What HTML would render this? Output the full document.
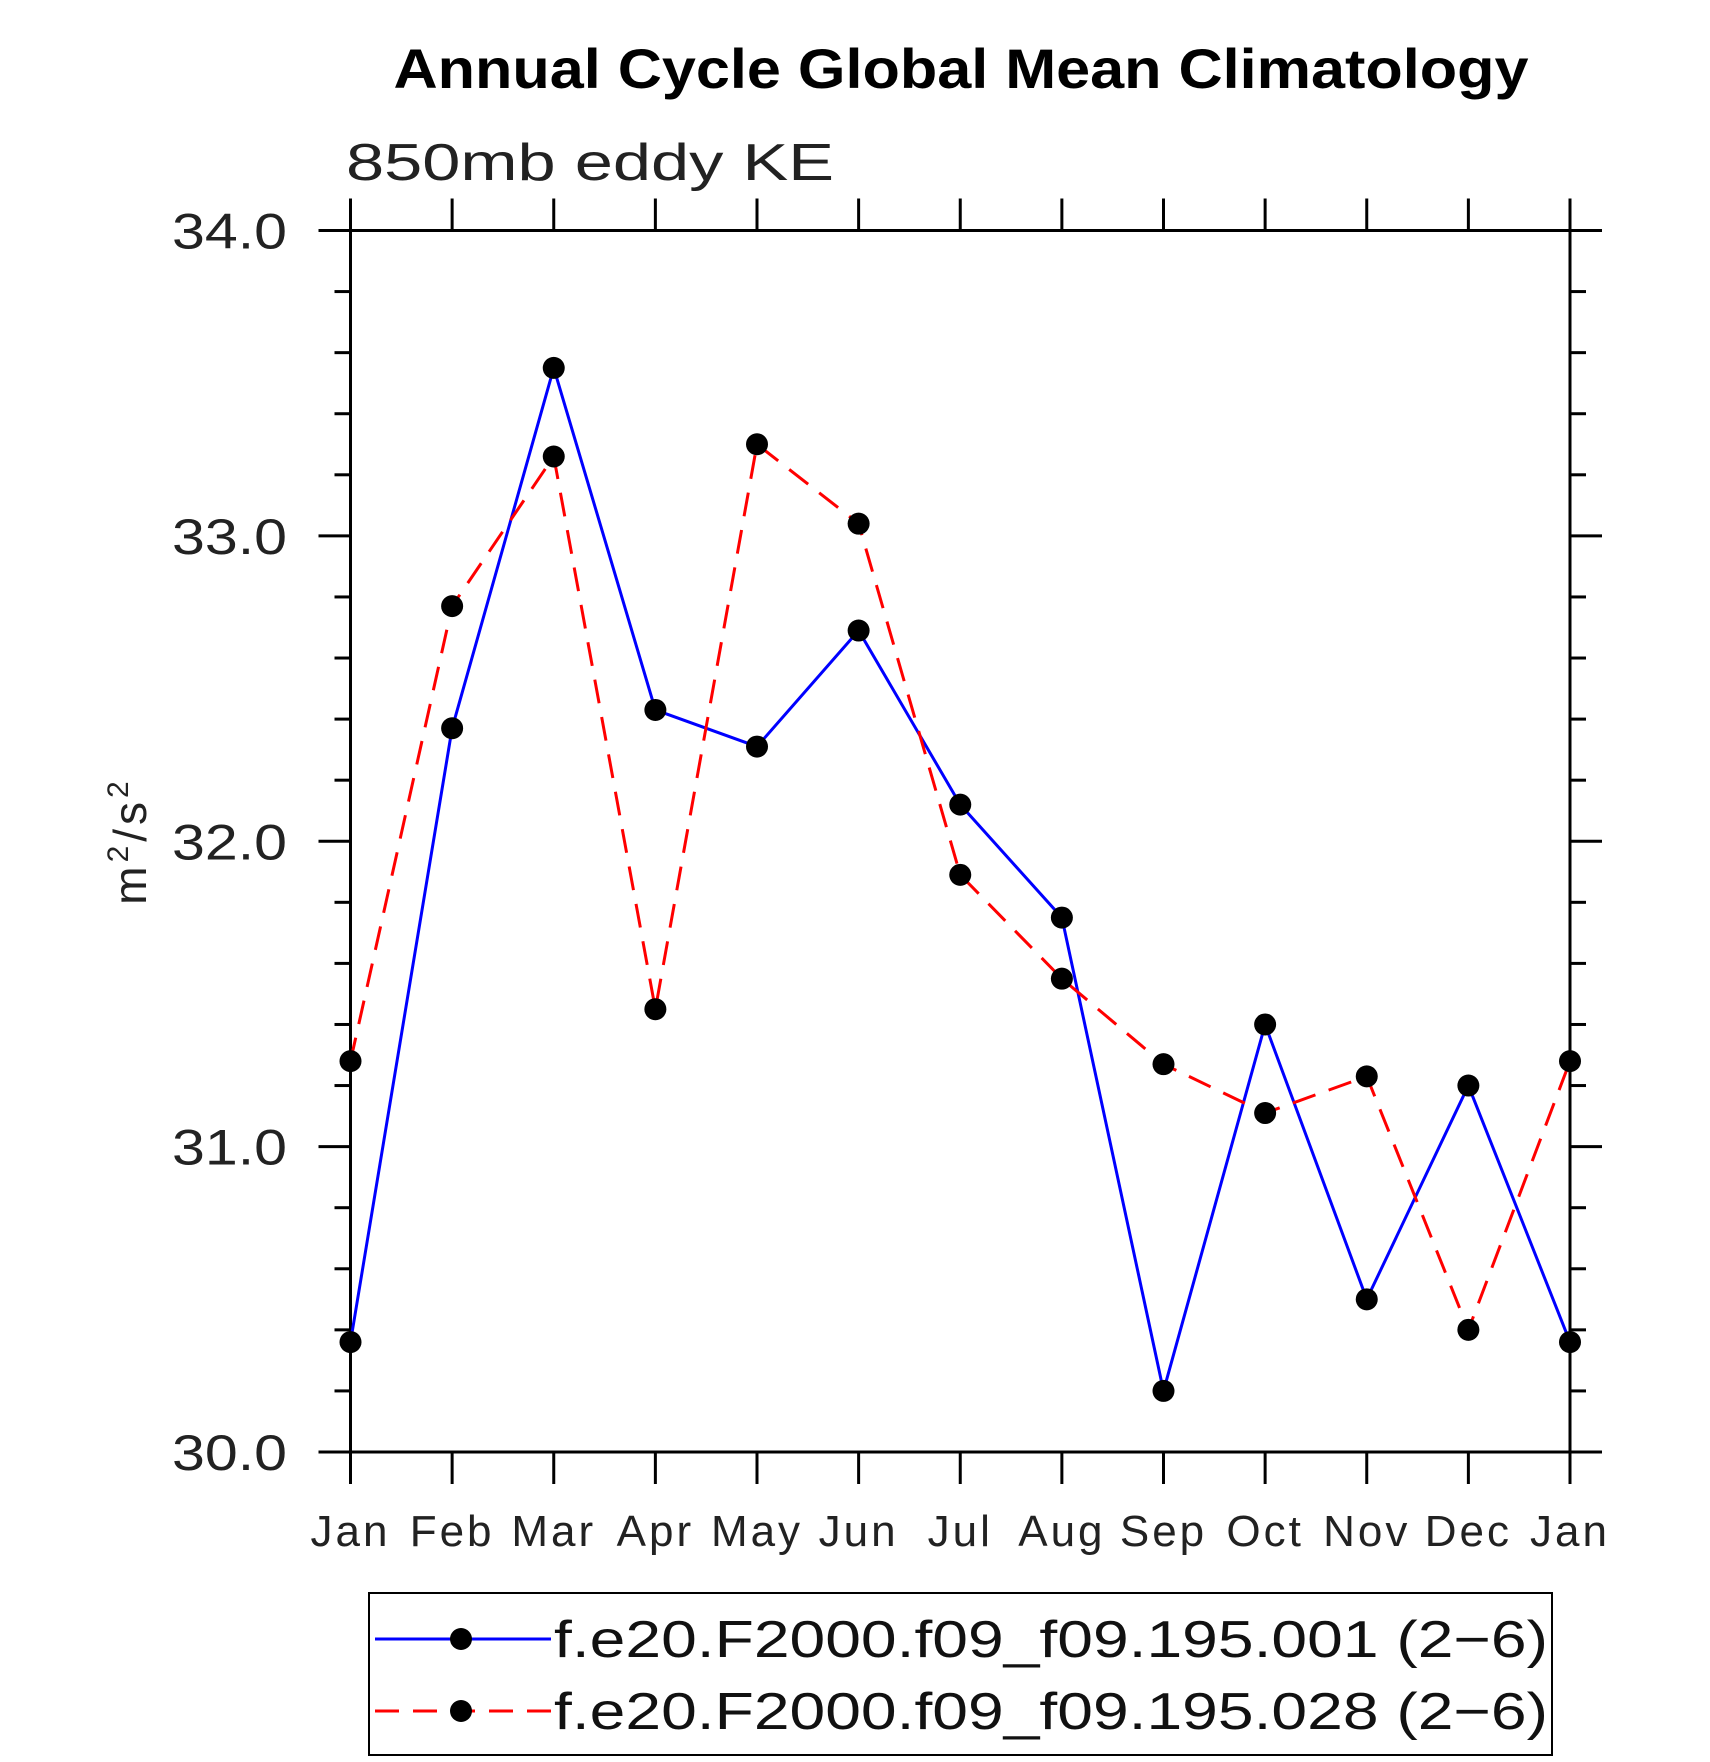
<!DOCTYPE html>
<html><head><meta charset="utf-8"><style>
html,body{margin:0;padding:0;background:#fff;}
svg{display:block;font-family:"Liberation Sans",sans-serif;}
</style></head><body>
<svg id="chart" width="1710" height="1762" viewBox="0 0 1710 1762">
<text x="961" y="88" text-anchor="middle" font-weight="bold" font-size="56" textLength="1135" lengthAdjust="spacingAndGlyphs">Annual Cycle Global Mean Climatology</text>
<text x="346" y="180" font-size="52" textLength="488" lengthAdjust="spacingAndGlyphs" fill="#222">850mb eddy KE</text>
<text transform="translate(146,841) rotate(-90)" text-anchor="middle" font-size="46" fill="#222" letter-spacing="4">m<tspan dy="-18" font-size="30">2</tspan><tspan dy="18">/s</tspan><tspan dy="-18" font-size="30">2</tspan></text>
<g id="axes"></g>
<g id="series"></g>
<g id="legend">
<rect x="369" y="1593" width="1183" height="162" fill="none" stroke="#000" stroke-width="2"/>
<g>
<line x1="375" y1="1639" x2="551" y2="1639" stroke="#0000ff" stroke-width="3"/>
<circle cx="461" cy="1639" r="11" fill="#000"/>
<text x="554" y="1657" font-size="52" textLength="994" lengthAdjust="spacingAndGlyphs" fill="#111">f.e20.F2000.f09_f09.195.001 (2−6)</text>
</g>
<g>
<line x1="375" y1="1711" x2="551" y2="1711" stroke="#ff0000" stroke-width="3" stroke-dasharray="24,14"/>
<circle cx="461" cy="1711" r="11" fill="#000"/>
<text x="554" y="1729" font-size="52" textLength="994" lengthAdjust="spacingAndGlyphs" fill="#111">f.e20.F2000.f09_f09.195.028 (2−6)</text>
</g>
</g>
</svg>
<script>
const months = ["Jan","Feb","Mar","Apr","May","Jun","Jul","Aug","Sep","Oct","Nov","Dec","Jan"];
const series001 = [30.36,32.37,33.55,32.43,32.31,32.69,32.12,31.75,30.20,31.40,30.50,31.20,30.36];
const series028 = [31.28,32.77,33.26,31.45,33.30,33.04,31.89,31.55,31.27,31.11,31.23,30.40,31.28];
const yTicks = [30,31,32,33,34];
const yTickLabels = ["30.0","31.0","32.0","33.0","34.0"];

const NS="http://www.w3.org/2000/svg";
const L=350.5,R=1570,T=230.5,B=1452;
const yMin=30,yMax=34;
function xs(i){return L+i*(R-L)/(months.length-1);}
function ys(v){return B-(v-yMin)/(yMax-yMin)*(B-T);}
function mk(tag,attrs,parent){const e=document.createElementNS(NS,tag);for(const k in attrs)e.setAttribute(k,attrs[k]);parent.appendChild(e);return e;}
const axes=document.getElementById('axes');
const tick={stroke:"#000","stroke-width":3};
const frame=mk('rect',{x:L,y:T,width:R-L,height:B-T,fill:"none",stroke:"#000","stroke-width":3},axes);


months.forEach((m,i)=>{
  const x=xs(i);
  mk('line',Object.assign({x1:x,y1:T,x2:x,y2:T-32},tick),axes);
  mk('line',Object.assign({x1:x,y1:B,x2:x,y2:B+32},tick),axes);
  const t=mk('text',{x:x,y:1546,"text-anchor":"middle","font-size":44,fill:"#222","letter-spacing":3},axes);
  t.textContent=m;
  
  
});
for(let v=yMin;v<=yMax+1e-9;v+=0.2){
  const y=ys(v);
  const major=Math.abs(v-Math.round(v))<1e-6;
  const len=major?32:16;
  mk('line',Object.assign({x1:L-len,y1:y,x2:L,y2:y},tick),axes);
  mk('line',Object.assign({x1:R,y1:y,x2:R+len,y2:y},tick),axes);
}
yTicks.forEach((v,i)=>{
  const t=mk('text',{x:172,y:ys(v)+18,"font-size":50,fill:"#222",textLength:115,lengthAdjust:"spacingAndGlyphs"},axes);
  t.textContent=yTickLabels[i];
  
  
});
const sg=document.getElementById('series');
function draw(vals,color,dash,name){
  const g=mk('g',{},sg);
  
  
  const pts=vals.map((v,i)=>xs(i)+","+ys(v)).join(" ");
  const a={points:pts,fill:"none",stroke:color,"stroke-width":3};
  if(dash)a["stroke-dasharray"]=dash;
  mk('polyline',a,g);
  vals.forEach((v,i)=>{
    const c=mk('circle',{cx:xs(i),cy:ys(v),r:11,fill:"#000"},g);
    
    
  });
}
draw(series001,"#0000ff",null,"series-001");
draw(series028,"#ff0000","24,14","series-028");
</script>
</body></html>
